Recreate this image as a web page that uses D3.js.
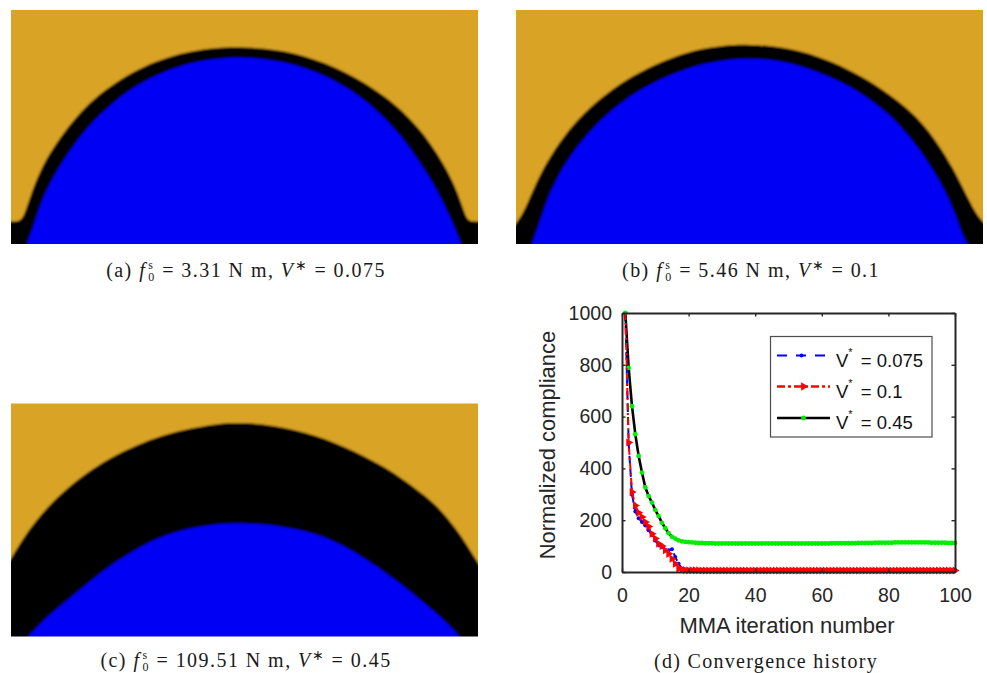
<!DOCTYPE html>
<html><head><meta charset="utf-8">
<script src="https://cdn.jsdelivr.net/npm/d3@7/dist/d3.min.js"></script>
<style>html,body{margin:0;padding:0;background:#fff}svg{display:block}</style></head>
<body><svg id="c" width="987" height="673"></svg>
<script>
// Panel profiles: [position along width (0-1402), height above base (0-700)]
const aOuter=[[-30,67],[0,67],[29,67],[42,92],[67,170],[97,240],[137,303],[182,364],[237,425],[297,472],[367,516],[437,547],[507,570],[577,583],[647,589],[702,588],[762,585],[822,577],[882,562],[942,542],[1002,515],[1062,482],[1122,442],[1182,392],[1232,337],[1272,282],[1312,217],[1342,152],[1362,92],[1372,67],[1402,67],[1432,67]];
const aInner=[[47,0],[67,52],[92,132],[127,202],[167,266],[217,336],[277,398],[347,456],[417,497],[497,530],[577,550],[650,558],[702,558],[762,554],[822,544],[882,527],[942,504],[1002,472],[1062,432],[1122,377],[1172,322],[1212,267],[1252,207],[1292,137],[1322,72],[1352,0]];
const bOuter=[[-30,20],[0,62],[22,92],[52,165],[92,246],[142,321],[202,391],[272,451],[352,505],[432,544],[512,574],[592,590],[660,597],[702,596],[762,593],[822,584],[882,570],[942,547],[1002,520],[1062,487],[1122,447],[1182,400],[1232,347],[1272,292],[1312,227],[1342,167],[1367,117],[1397,67],[1432,40]];
const bInner=[[47,0],[67,52],[92,132],[127,206],[172,278],[232,350],[302,414],[372,462],[452,502],[532,532],[612,548],[670,554],[702,555],[762,552],[822,542],[882,524],[942,500],[1002,472],[1062,434],[1122,387],[1172,332],[1212,282],[1252,222],[1292,152],[1322,82],[1342,22],[1357,0]];
const cOuter=[[-40,170],[0,234],[37,296],[77,352],[127,407],[187,462],[257,513],[337,557],[417,592],[497,617],[577,632],[650,642],[702,642],[762,637],[822,627],[882,613],[942,594],[1002,569],[1062,541],[1122,509],[1182,469],[1242,424],[1292,379],[1332,329],[1367,279],[1397,229],[1442,160]];
const cInner=[[52,0],[97,50],[167,107],[237,166],[307,220],[377,264],[447,299],[527,324],[607,337],[660,340],[702,340],[762,337],[822,329],[882,317],[942,299],[1002,271],[1062,234],[1122,194],[1182,149],[1242,99],[1302,49],[1347,0]];

// Convergence series, iterations 1..100
const seriesBlue=[1000,495,299,234,208,193,180,161,142,122,103,96,84,84,88,58,32,13,9,8,8,8,8,8,8,8,8,8,8,8,8,8,8,8,8,8,8,8,8,8,8,8,8,8,8,8,8,8,8,8,8,8,8,8,8,8,8,8,8,8,8,8,8,8,8,8,8,8,8,8,8,8,8,8,8,8,8,8,8,8,8,8,8,8,8,8,8,8,8,8,8,8,8,8,8,8,8,8,8,8];
const seriesRed=[1000,500,309,257,229,212,193,176,148,129,109,100,84,70,51,32,13,10,8,7,7,7,7,6,6,6,6,6,6,6,6,6,6,6,6,6,6,6,6,6,6,6,6,6,6,6,6,6,6,6,6,6,6,6,6,6,6,6,6,6,6,6,6,6,6,6,6,6,6,6,6,6,6,6,6,6,6,6,6,6,6,6,6,6,6,6,6,6,6,6,6,6,6,6,6,6,6,6,6,6];
const seriesBlack=[1000,788,640,532,448,384,327,293,268,239,216,190,169,150,136,129,122,118,116,115,114,113,112,112,111,111,111,110,110,110,110,110,110,110,110,110,110,110,110,110,110,110,110,110,110,110,110,110,110,110,110,110,110,110,110,110,110,110,110,110,110,110,111,111,111,111,111,111,111,111,112,112,112,112,112,113,113,113,113,113,113,114,114,114,114,114,114,114,114,114,114,114,113,113,113,113,113,112,112,112];
const xTicks=[0,20,40,60,80,100];
const yTicks=[0,200,400,600,800,1000];
const legendLabels=["0.075","0.1","0.45"];

const svg=d3.select("#c");
const defs=svg.append("defs");
defs.append("filter").attr("id","soft").attr("x","-2%").attr("y","-2%").attr("width","104%").attr("height","104%")
  .append("feGaussianBlur").attr("stdDeviation",0.8);

function panel(name,left,right,top,bottom,outer,inner){
  const x=d3.scaleLinear().domain([0,1402]).range([left,right]);
  const y=d3.scaleLinear().domain([0,700]).range([bottom,top]);
  const area=d3.area().x(d=>x(d[0])).y0(y(-20)).y1(d=>y(d[1])).curve(d3.curveBasis);
  defs.append("clipPath").attr("id","clip-"+name).append("rect")
    .attr("x",left).attr("y",top).attr("width",right-left).attr("height",bottom-top);
  const g=svg.append("g").attr("clip-path",`url(#clip-${name})`).append("g").attr("filter","url(#soft)");
  g.append("rect").attr("x",left-3).attr("y",top-3).attr("width",right-left+6).attr("height",bottom-top+6).attr("fill","#d9a326");
  g.append("path").datum(outer).attr("d",area).attr("fill","#000");
  g.append("path").datum(inner).attr("d",area).attr("fill","#0000f5");
}
panel("a",11,478,10,244,aOuter,aInner);
panel("b",516,983,10,244,bOuter,bInner);
panel("c",11,478,403.5,636.5,cOuter,cInner);

function caption(cx,base,label,val,vstar,ls){
  const t=svg.append("text").attr("x",cx).attr("y",base).attr("text-anchor","middle")
    .attr("font-family","'Liberation Serif',serif").attr("font-size",20).attr("fill","#1a1a1a").attr("letter-spacing",ls);
  t.append("tspan").text(label+"  ");
  t.append("tspan").attr("font-style","italic").text("f");
  t.append("tspan").attr("font-size",12).attr("dy",-8).attr("dx",2).text("s");
  t.append("tspan").attr("font-size",12).attr("dy",12).attr("dx",-6).text("0");
  t.append("tspan").attr("dy",-4).text(" = "+val+" N m, ");
  t.append("tspan").attr("font-style","italic").text("V");
  t.append("tspan").attr("font-size",14).attr("dy",-7).text("∗");
  t.append("tspan").attr("dy",7).text(" = "+vstar);
}
caption(246,277,"(a)","3.31","0.075",1.45);
caption(751,277,"(b)","5.46","0.1",1.45);
caption(246,667,"(c)","109.51","0.45",1.45);
svg.append("text").attr("x",766).attr("y",668).attr("text-anchor","middle")
  .attr("font-family","'Liberation Serif',serif").attr("font-size",20).attr("fill","#1a1a1a").attr("letter-spacing",1.3)
  .text("(d)  Convergence history");

// Chart (d)
const L=622,R=955,T=313,B=572;
const x=d3.scaleLinear().domain([0,100]).range([L,R]);
const y=d3.scaleLinear().domain([0,1000]).range([B,T]);
const ink="#262626",font="'Liberation Sans',Arial,sans-serif";
const line=d3.line().x((d,i)=>x(i+1)).y(d=>y(d));
const plot=svg.append("g");
const tri=d3.symbol().type(d3.symbolTriangle).size(28);

plot.append("path").attr("d",line(seriesBlue)).attr("fill","none").attr("stroke","#0000ff").attr("stroke-width",2).attr("stroke-dasharray","8 5");
plot.selectAll(".b").data(seriesBlue).join("circle").attr("cx",(d,i)=>x(i+1)).attr("cy",d=>y(d)).attr("r",2).attr("fill","#0000ff");
plot.append("path").attr("d",line(seriesBlack)).attr("fill","none").attr("stroke","#000").attr("stroke-width",2.6);
plot.selectAll(".g").data(seriesBlack).join("circle").attr("cx",(d,i)=>x(i+1)).attr("cy",d=>y(d)).attr("r",2.4).attr("fill","#00ee00");
plot.append("path").attr("d",line(seriesRed)).attr("fill","none").attr("stroke","#ff0000").attr("stroke-width",2).attr("stroke-dasharray","7 3 2 3");
plot.selectAll(".r").data(seriesRed.slice(1)).join("path").attr("d",tri)
  .attr("transform",(d,i)=>`translate(${x(i+2)},${y(d)}) rotate(90)`).attr("fill","#ff0000");

function styleAxis(g,labels){
  g.selectAll("path.domain").attr("stroke",ink).attr("stroke-width",2);
  g.selectAll(".tick line").attr("stroke",ink).attr("stroke-width",1.4);
  g.selectAll("text").attr("fill",ink).attr("font-family",font).attr("font-size",19.5);
  if(!labels) g.selectAll("text").remove();
}
const mk=(a,s,t)=>a(s).tickValues(t).tickFormat(d3.format("d")).tickSizeOuter(0).tickSizeInner(-3.5);
svg.append("g").attr("transform",`translate(0,${B})`).call(mk(d3.axisBottom,x,xTicks).tickPadding(16)).call(styleAxis,true);
svg.append("g").attr("transform",`translate(0,${T})`).call(mk(d3.axisTop,x,xTicks)).call(styleAxis,false);
svg.append("g").attr("transform",`translate(${L},0)`).call(mk(d3.axisLeft,y,yTicks).tickPadding(10)).call(styleAxis,true);
svg.append("g").attr("transform",`translate(${R},0)`).call(mk(d3.axisRight,y,yTicks)).call(styleAxis,false);

svg.append("text").attr("x",787).attr("y",633).attr("text-anchor","middle")
  .attr("font-family",font).attr("font-size",22).attr("fill",ink).text("MMA iteration number");
svg.append("text").attr("transform","translate(555,445) rotate(-90)").attr("text-anchor","middle")
  .attr("font-family",font).attr("font-size",22).attr("fill",ink).text("Normalized compliance");

// Legend
const lg=svg.append("g");
lg.append("rect").attr("x",770.5).attr("y",336.5).attr("width",161.5).attr("height",100.5).attr("fill","#fff").attr("stroke","#4d4d4d").attr("stroke-width",1.2);
const rows=[355.5,386.5,418];
const styles=[{c:"#0000ff",w:2,d:"10 9",e:825.5},{c:"#ff0000",w:2.4,d:"8 3 3 3",e:830},{c:"#000",w:2.6,d:null,e:830}];
rows.forEach((ry,i)=>{
  const s=styles[i];
  const ln=lg.append("line").attr("x1",777).attr("x2",s.e).attr("y1",ry).attr("y2",ry).attr("stroke",s.c).attr("stroke-width",s.w);
  if(s.d) ln.attr("stroke-dasharray",s.d);
  if(i==0) lg.append("circle").attr("cx",801.5).attr("cy",ry).attr("r",2).attr("fill","#0000ff");
  if(i==1) lg.append("path").attr("d",d3.symbol().type(d3.symbolTriangle).size(30)).attr("transform",`translate(803.5,${ry}) rotate(90)`).attr("fill","#ff0000");
  if(i==2) lg.append("circle").attr("cx",803.5).attr("cy",ry).attr("r",2.4).attr("fill","#00ee00");
  const t=lg.append("text").attr("x",836).attr("y",ry+11).attr("font-family",font).attr("font-size",18.5).attr("fill","#111");
  t.append("tspan").text("V");
  t.append("tspan").attr("font-size",11).attr("dy",-11).attr("dx",0).text("*");
  t.append("tspan").attr("dy",11).attr("dx",3).text(" = "+legendLabels[i]);
});
</script></body></html>
